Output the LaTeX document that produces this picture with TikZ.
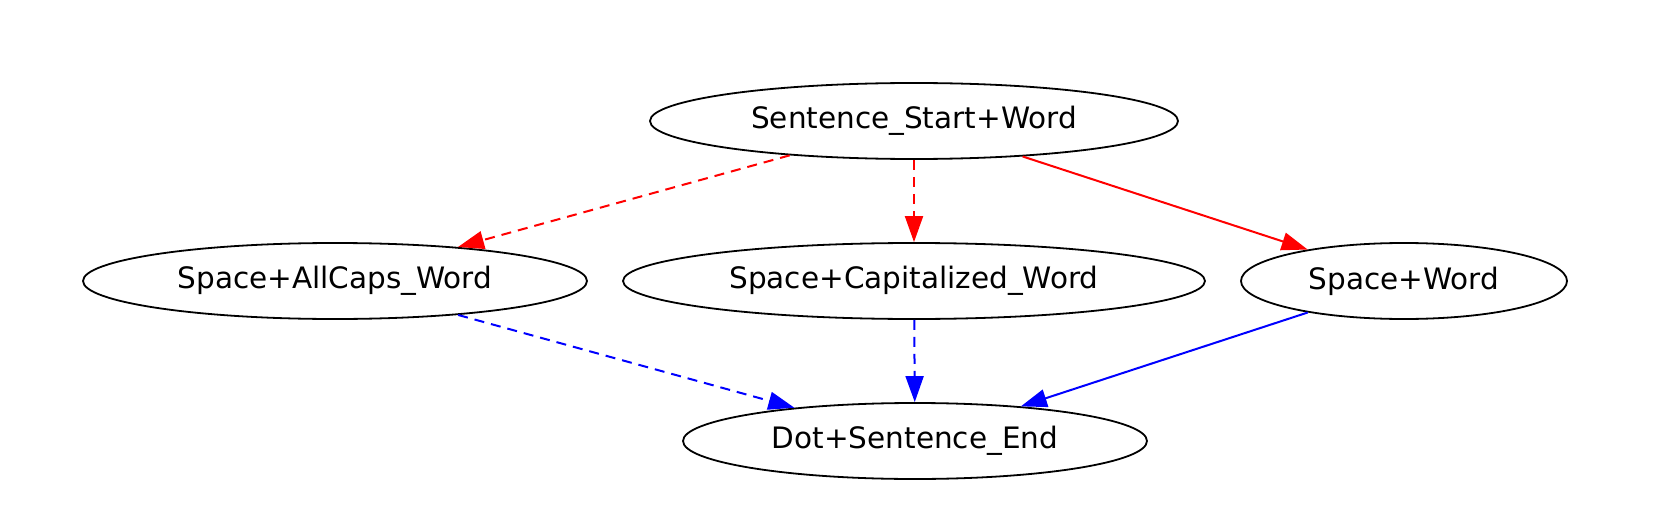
\documentclass[tikz,border=0pt]{standalone}
\usepackage{fontspec}
\setmainfont{DejaVu Sans}
\usetikzlibrary{arrows.meta,shapes.geometric}

\begin{document}
\begin{tikzpicture}[%
    >={Triangle[length=26pt,width=18pt]},
    x=1pt, y=-1pt,
    line width=2pt,
    tok/.style={draw, ellipse, line width=1.8pt, inner sep=0pt,
      minimum height=76pt, font=\fontsize{29.5}{35}\selectfont},
    opt/.style={dash pattern=on 10pt off 7pt},
  ]
    \useasboundingbox (0,0) rectangle (1662,524);

    \node[tok, minimum width=528pt] (start) at (914,121) {Sentence\_Start+Word};
    \node[tok, minimum width=504pt] (caps)  at (335,281) {Space+AllCaps\_Word};
    \node[tok, minimum width=582pt] (cap)   at (914,281) {Space+Capitalized\_Word};
    \node[tok, minimum width=326pt] (word)  at (1404,281) {Space+Word};
    \node[tok, minimum width=464pt] (end)   at (915,441) {Dot+Sentence\_End};

    \path[->]
    (start) edge [red, opt] (caps)
    (start) edge [red, opt] (cap)
    (start) edge [red] (word)
    (caps) edge [blue, opt] (end)
    (cap) edge [blue, opt] (end)
    (word) edge [blue] (end)
    ;
  \end{tikzpicture}
\end{document}
